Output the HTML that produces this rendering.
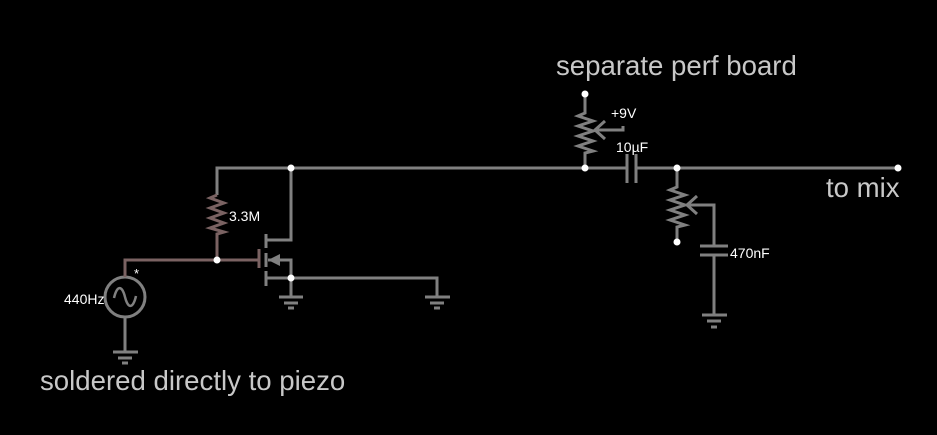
<!DOCTYPE html>
<html><head><style>
html,body{margin:0;padding:0;background:#000;}
svg{display:block;}
text{font-family:"Liberation Sans",sans-serif;}
</style></head><body>
<svg width="937" height="435" viewBox="0 0 937 435" xmlns="http://www.w3.org/2000/svg">
<rect width="937" height="435" fill="#000"/>
<g stroke="#808080" stroke-width="3" fill="none" stroke-linecap="butt">
  <polyline points="217,195 217,168 627,168"/>
  <line x1="636" y1="168" x2="898" y2="168"/>
  <polyline points="291,168 291,240 266,240"/>
  <line x1="266" y1="234" x2="266" y2="248"/>
  <line x1="266" y1="253" x2="266" y2="267"/>
  <line x1="266" y1="271" x2="266" y2="286"/>
  <polyline points="268,260 291,260 291,278"/>
  <polyline points="266,278 437,278 437,297"/>
  <line x1="291" y1="278" x2="291" y2="297"/>
  <line x1="279" y1="297" x2="303" y2="297"/><line x1="284" y1="303" x2="298" y2="303"/><line x1="288" y1="308" x2="294" y2="308"/>
  <line x1="425" y1="297" x2="450" y2="297"/><line x1="430" y1="303" x2="444" y2="303"/><line x1="434" y1="308" x2="440" y2="308"/>
  <line x1="113" y1="352" x2="138" y2="352"/><line x1="118" y1="358" x2="132" y2="358"/><line x1="122" y1="363" x2="128" y2="363"/>
  <line x1="702" y1="315" x2="727" y2="315"/><line x1="707" y1="321" x2="721" y2="321"/><line x1="711" y1="327" x2="717" y2="327"/>
  <line x1="125" y1="317" x2="125" y2="352"/>
  <circle cx="125" cy="297" r="20"/>
  <path d="M114,298 C117,285 122,285 125,297 C128,309 133,309 136,296" stroke-width="2.5"/>
  <polyline points="585,94 585,113 578,116 593,121 578,126 593,131 578,136 593,141 578,146 593,151 585,153 585,168"/>
  <polyline points="596,130 623,130 623,126"/>
  <polyline points="605,121 595,130 605,139"/>
  <line x1="627" y1="154" x2="627" y2="183"/>
  <line x1="636" y1="154" x2="636" y2="183"/>
  <polyline points="677,168 677,187 670,190 685,195 670,200 685,205 670,210 685,215 670,220 685,225 677,227 677,242"/>
  <polyline points="688,205 714,205 714,246"/>
  <polyline points="697,196 687,205 697,214"/>
  <line x1="700" y1="246" x2="728" y2="246"/>
  <line x1="700" y1="255" x2="728" y2="255"/>
  <line x1="714" y1="255" x2="714" y2="315"/>
</g>
<g stroke="#7a6262" stroke-width="3" fill="none">
  <polyline points="217,195 210,198 224,203 210,208 224,213 210,218 224,223 210,228 224,232 217,234 217,260"/>
  <polyline points="125,277 125,260 258,260"/>
  <line x1="259" y1="249" x2="259" y2="268"/>
</g>
<polygon points="268,260 280,254 280,266" fill="#808080"/>
<g fill="#fff">
  <circle cx="291" cy="168" r="3.5"/><circle cx="217" cy="260" r="3.5"/><circle cx="291" cy="278" r="3.5"/>
  <circle cx="585" cy="94" r="3.5"/><circle cx="585" cy="168" r="3.5"/><circle cx="677" cy="168" r="3.5"/>
  <circle cx="677" cy="242" r="3.5"/><circle cx="898" cy="168" r="3.5"/>
</g>
<g fill="#fff" font-size="14">
  <text x="229" y="221">3.3M</text>
  <text x="64" y="304">440Hz</text>
  <text x="134" y="278" font-size="13">*</text>
  <text x="611" y="118">+9V</text>
  <text x="616" y="152">10µF</text>
  <text x="730" y="258">470nF</text>
</g>
<g fill="#c8c8c8" font-size="27.6">
  <text x="556" y="75">separate perf board</text>
  <text x="826" y="197">to mix</text>
  <text x="40" y="390">soldered directly to piezo</text>
</g>
</svg>
</body></html>
